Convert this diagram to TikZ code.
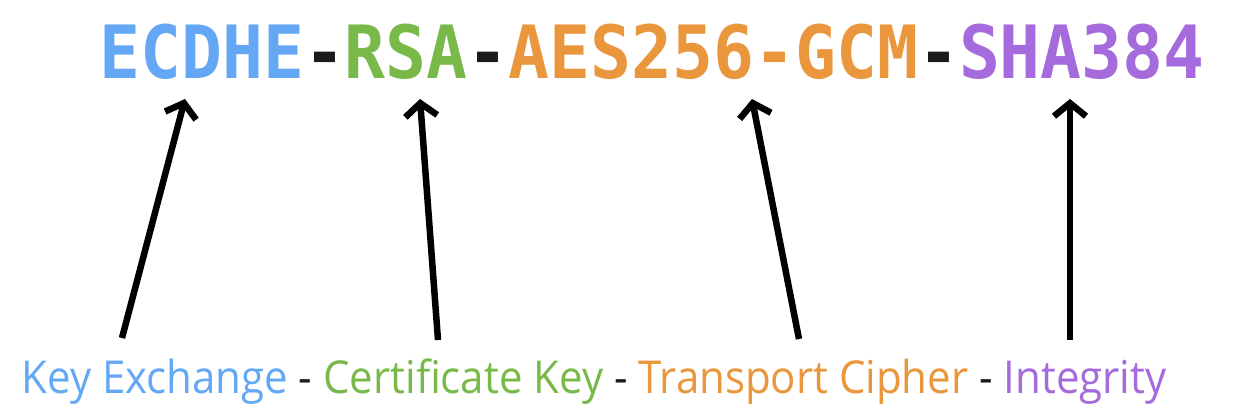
\documentclass[tikz,border=0pt]{standalone}
\usepackage{fontspec}
\setmainfont{Open Sans}
\newfontfamily\codefont{DejaVu Sans Mono}[BoldFont={DejaVu Sans Mono Bold}]
\usetikzlibrary{arrows.meta}
\definecolor{kxblue}{HTML}{64A8F5}
\definecolor{certgreen}{HTML}{78B94A}
\definecolor{ciphorange}{HTML}{E9963D}
\definecolor{intpurple}{HTML}{A56BDC}
\definecolor{dashgray}{HTML}{1A1A1A}
\tikzset{
  pointer/.style={line width=6.5pt, black, -{Straight Barb[length=13pt,width=32pt]}},
  suite/.style={inner sep=0pt, anchor=base, font=\codefont\bfseries\fontsize{68}{68}\selectfont},
  legend/.style={inner sep=0pt, anchor=base, font=\fontsize{42}{42}\selectfont}
}
\begin{document}
\begin{tikzpicture}[x=1pt,y=-1pt]
\useasboundingbox (0,0) rectangle (1234,420);
\node[suite] (suite) at (652,78) {\scalebox{1}[1.08]{\textcolor{kxblue}{ECDHE}\textcolor{dashgray}{-}\textcolor{certgreen}{RSA}\textcolor{dashgray}{-}\textcolor{ciphorange}{AES256-GCM}\textcolor{dashgray}{-}\textcolor{intpurple}{SHA384}}};
\node[legend] (legend) at (594,393) {\scalebox{1}[1.08]{\textcolor{kxblue}{Key Exchange} \textcolor{dashgray}{-} \textcolor{certgreen}{Certificate Key} \textcolor{dashgray}{-} \textcolor{ciphorange}{Transport Cipher} \textcolor{dashgray}{-} \textcolor{intpurple}{Integrity}}};
\coordinate (kxtail) at (122,338);
\coordinate (kxtip) at (185,99);
\coordinate (certtail) at (438,340);
\coordinate (certtip) at (420,99);
\coordinate (ciphtail) at (799,339);
\coordinate (ciphtip) at (752,99);
\coordinate (inttail) at (1070,340);
\coordinate (inttip) at (1070,99);
\draw[pointer] (kxtail) -- (kxtip);
\draw[pointer] (certtail) -- (certtip);
\draw[pointer] (ciphtail) -- (ciphtip);
\draw[pointer] (inttail) -- (inttip);
\end{tikzpicture}
\end{document}
